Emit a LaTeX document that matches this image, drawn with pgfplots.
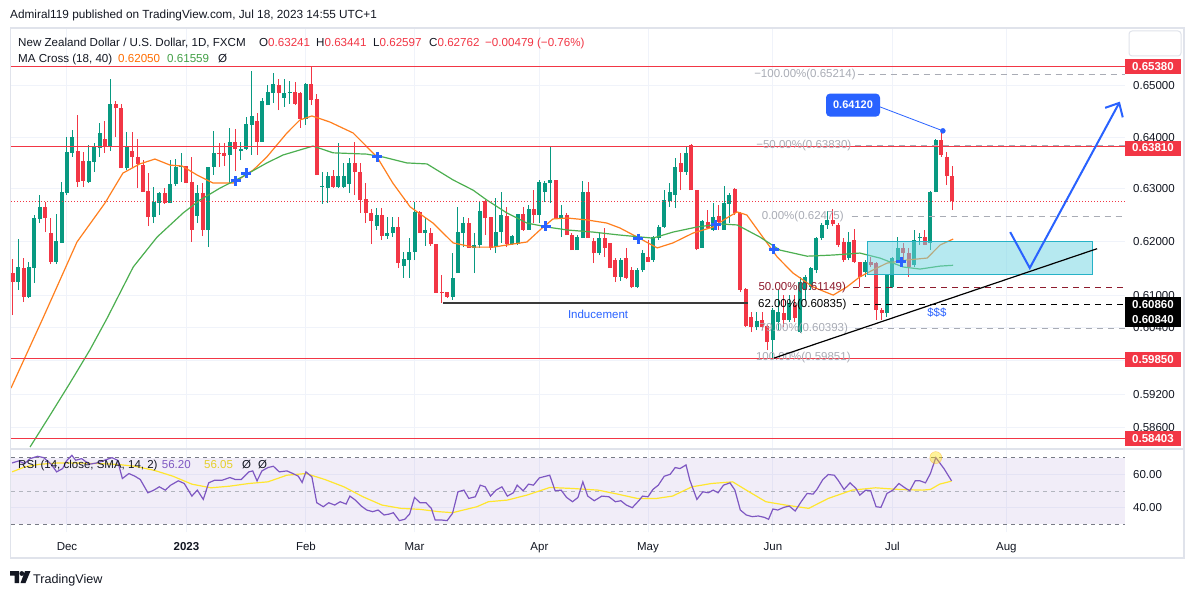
\documentclass[border=0pt]{standalone}
\usepackage{fontspec}
\setmainfont{Liberation Sans}
\usepackage{pgfplots}
\pgfplotsset{compat=1.18}
\usepackage{pgfplotstable}
\usetikzlibrary{arrows.meta}
\newcommand{\fz}[1]{\fontsize{#1}{#1}\selectfont}
\definecolor{tvred}{HTML}{F23645}
\definecolor{tvgreen}{HTML}{089981}
\definecolor{tvtext}{HTML}{131722}
\definecolor{tvgrid}{HTML}{F0F3FA}
\definecolor{tvborder}{HTML}{E0E3EB}
\definecolor{tvblue}{HTML}{2962FF}
\definecolor{maorange}{HTML}{FF7F1E}
\definecolor{magreen}{HTML}{4CAF50}
\definecolor{matxtorange}{HTML}{FF6D00}
\definecolor{matxtgreen}{HTML}{43A047}
\definecolor{rsipurple}{HTML}{7E57C2}
\definecolor{rsiyellow}{HTML}{FFE62E}
\definecolor{fibgray}{HTML}{A9ACB5}
\definecolor{fibred}{HTML}{8E1B2D}
\definecolor{zonebase}{RGB}{111,213,227}
\definecolor{zonedraw}{RGB}{38,178,199}
\definecolor{dashgray}{HTML}{787B86}
\definecolor{dashlight}{HTML}{B2B5BE}
\definecolor{inducecol}{HTML}{3A3A3A}

% green candles: rows (i, low, body-bottom), (i, high, body-top), break
\pgfplotstableread{
x w b
-9 0.61098 0.61246
-9 0.62051 0.61526
-9 nan nan
-7 0.60950 0.60968
-7 0.61619 0.61526
-7 nan nan
-6 0.61228 0.61507
-6 0.62504 0.62448
-6 nan nan
-5 0.62353 0.62429
-5 0.62885 0.62656
-5 nan nan
-2 0.61582 0.61619
-2 0.62523 0.62013
-2 nan nan
-1 0.61976 0.61976
-1 0.63134 0.62942
-1 nan nan
0 0.62885 0.62923
0 0.64002 0.63711
0 nan nan
1 0.63615 0.63692
1 0.64138 0.64002
1 nan nan
4 0.63115 0.63134
4 0.63846 0.63537
4 nan nan
5 0.63326 0.63518
5 0.63885 0.63808
5 nan nan
6 0.63615 0.63788
6 0.64274 0.64079
6 nan nan
8 0.63730 0.63808
8 0.65138 0.64646
8 nan nan
11 0.63364 0.63402
11 0.64099 0.63808
11 nan nan
16 0.62353 0.62467
16 0.63038 0.62752
16 nan nan
17 0.62504 0.62733
17 0.62942 0.62923
17 nan nan
19 0.62733 0.62733
19 0.63557 0.63096
19 nan nan
20 0.63057 0.63096
20 0.63576 0.63421
20 nan nan
21 0.63134 0.63421
21 0.63692 0.63436
21 nan nan
24 0.62353 0.62485
24 0.63077 0.62923
24 nan nan
26 0.61900 0.62221
26 0.63430 0.63421
26 nan nan
27 0.63268 0.63421
27 0.64118 0.63692
27 nan nan
30 0.63115 0.63653
30 0.64177 0.63904
30 nan nan
32 0.63557 0.63730
32 0.63904 0.63769
32 nan nan
33 0.63750 0.63769
33 0.64391 0.64255
33 nan nan
34 0.63653 0.64235
34 0.65297 0.64411
34 nan nan
36 0.63904 0.63904
36 0.64764 0.64705
36 nan nan
37 0.64627 0.64627
37 0.65020 0.64882
37 nan nan
38 0.64666 0.64862
38 0.65257 0.65039
38 nan nan
40 0.64587 0.64764
40 0.65138 0.64862
40 nan nan
41 0.64646 0.64862
41 0.65099 0.64882
41 nan nan
44 0.64235 0.64352
44 0.65059 0.65039
44 nan nan
47 0.62713 0.63038
47 0.63326 0.63057
47 nan nan
48 0.62733 0.63019
48 0.63326 0.63249
48 nan nan
50 0.63019 0.63038
50 0.63885 0.63249
50 nan nan
51 0.63019 0.63038
51 0.63499 0.63249
51 nan nan
52 0.62923 0.63096
52 0.63595 0.63499
52 nan nan
57 0.62221 0.62296
57 0.62637 0.62504
57 nan nan
59 0.62051 0.62107
59 0.62466 0.62164
59 nan nan
60 0.62088 0.62164
60 0.62466 0.62277
60 nan nan
62 0.61321 0.61545
62 0.61807 0.61676
62 nan nan
63 0.61321 0.61657
63 0.62070 0.61807
63 nan nan
64 0.61657 0.61807
64 0.62752 0.62561
64 nan nan
66 0.61919 0.62164
66 0.62466 0.62221
66 nan nan
71 0.60913 0.60968
71 0.61788 0.61321
71 nan nan
72 0.61414 0.61414
72 0.62656 0.62183
72 nan nan
73 0.61900 0.62164
73 0.62466 0.62353
73 nan nan
75 0.61414 0.61882
75 0.62164 0.61938
75 nan nan
76 0.61882 0.61938
76 0.62752 0.62580
76 nan nan
79 0.61788 0.61900
79 0.62828 0.62183
79 nan nan
80 0.61976 0.62183
80 0.62942 0.62504
80 nan nan
82 0.61938 0.61957
82 0.62126 0.62107
82 nan nan
83 0.61938 0.61957
83 0.62530 0.62523
83 nan nan
85 0.62221 0.62221
85 0.62694 0.62618
85 nan nan
87 0.62353 0.62504
87 0.63172 0.63134
87 nan nan
88 0.62752 0.62942
88 0.63153 0.63115
88 nan nan
89 0.62733 0.63115
89 0.63808 0.63172
89 nan nan
91 0.62088 0.62429
91 0.62694 0.62504
91 nan nan
94 0.61844 0.61844
94 0.62126 0.62088
94 nan nan
95 0.62070 0.62070
95 0.63153 0.62942
95 nan nan
98 0.61751 0.61788
98 0.62164 0.62070
98 nan nan
102 0.61265 0.61340
102 0.61694 0.61657
102 nan nan
105 0.61135 0.61153
105 0.61507 0.61470
105 nan nan
106 0.61433 0.61470
106 0.61844 0.61788
106 nan nan
108 0.61619 0.61657
108 0.62107 0.62088
108 nan nan
109 0.62032 0.62070
109 0.62315 0.62277
109 nan nan
110 0.62258 0.62277
110 0.62980 0.62790
110 nan nan
111 0.62656 0.62771
111 0.63115 0.62942
111 nan nan
112 0.62637 0.62885
112 0.63595 0.63421
112 nan nan
114 0.63268 0.63326
114 0.63808 0.63692
114 nan nan
117 0.61882 0.61882
117 0.62410 0.62391
117 nan nan
119 0.62202 0.62221
119 0.62733 0.62466
119 nan nan
121 0.62221 0.62221
121 0.63057 0.62733
121 nan nan
122 0.62353 0.62713
122 0.62923 0.62885
122 nan nan
127 0.60361 0.60416
127 0.60691 0.60526
127 nan nan
130 0.59851 0.60178
130 0.60765 0.60728
130 nan nan
131 0.60361 0.60507
131 0.61098 0.60691
131 nan nan
133 0.60507 0.60544
133 0.61005 0.60858
133 nan nan
135 0.60306 0.60324
135 0.61340 0.61246
135 nan nan
136 0.60913 0.61098
136 0.61377 0.61340
136 nan nan
137 0.61098 0.61153
137 0.61526 0.61507
137 nan nan
138 0.61414 0.61470
138 0.62088 0.62070
138 nan nan
139 0.62032 0.62070
139 0.62353 0.62315
139 nan nan
140 0.62250 0.62315
140 0.62580 0.62400
140 nan nan
144 0.61657 0.61694
144 0.62183 0.61995
144 nan nan
147 0.61340 0.61433
147 0.61657 0.61619
147 nan nan
151 0.60600 0.60673
151 0.61400 0.61377
151 nan nan
152 0.61135 0.61153
152 0.61713 0.61694
152 nan nan
153 0.61601 0.61619
153 0.62088 0.61882
153 nan nan
156 0.61526 0.61563
156 0.62221 0.62032
156 nan nan
157 0.61938 0.62070
157 0.62164 0.62088
157 nan nan
159 0.61844 0.61976
159 0.62961 0.62942
159 nan nan
160 0.62938 0.62942
160 0.63963 0.63943
160 nan nan
}\greenC

% red candles
\pgfplotstableread{
x w b
-10 0.60636 0.61246
-10 0.61675 0.61414
-10 nan nan
-8 0.60876 0.60968
-8 0.61694 0.61507
-8 nan nan
-4 0.62183 0.62447
-4 0.62752 0.62656
-4 nan nan
-3 0.61582 0.61619
-3 0.62447 0.62164
-3 nan nan
2 0.63038 0.63134
2 0.64430 0.63730
2 nan nan
3 0.63038 0.63153
3 0.63711 0.63537
3 nan nan
7 0.63692 0.63808
7 0.64313 0.63963
7 nan nan
9 0.64002 0.64567
9 0.64705 0.64646
9 nan nan
10 0.63402 0.63402
10 0.64646 0.64567
10 nan nan
12 0.63402 0.63615
12 0.64099 0.63730
12 nan nan
13 0.63019 0.63480
13 0.63963 0.63615
13 nan nan
14 0.62942 0.62942
14 0.63557 0.63461
14 nan nan
15 0.62296 0.62467
15 0.63306 0.62961
15 nan nan
18 0.62713 0.62733
18 0.63019 0.62923
18 nan nan
22 0.63115 0.63115
22 0.63445 0.63441
22 nan nan
23 0.61995 0.62221
23 0.63615 0.63134
23 nan nan
25 0.62107 0.62221
25 0.63115 0.62923
25 nan nan
28 0.63421 0.63673
28 0.63885 0.63692
28 nan nan
29 0.63441 0.63634
29 0.63885 0.63692
29 nan nan
31 0.63345 0.63769
31 0.64157 0.63904
31 nan nan
35 0.63653 0.63904
35 0.64470 0.64313
35 nan nan
39 0.64528 0.64862
39 0.65138 0.65020
39 nan nan
42 0.64627 0.64646
42 0.65079 0.64882
42 nan nan
43 0.64177 0.64352
43 0.64870 0.64862
43 nan nan
45 0.64627 0.64724
45 0.65375 0.65039
45 nan nan
46 0.63267 0.63267
46 0.64843 0.64744
46 nan nan
49 0.63019 0.63038
49 0.63364 0.63249
49 nan nan
53 0.62885 0.63326
53 0.63904 0.63499
53 nan nan
54 0.62542 0.62790
54 0.63499 0.63326
54 nan nan
55 0.62353 0.62542
55 0.63115 0.62809
55 nan nan
56 0.61957 0.62391
56 0.62618 0.62542
56 nan nan
58 0.62032 0.62107
58 0.62637 0.62504
58 nan nan
61 0.61507 0.61601
61 0.62466 0.62277
61 nan nan
65 0.62164 0.62164
65 0.62570 0.62561
65 nan nan
67 0.61919 0.61957
67 0.62258 0.62164
67 nan nan
68 0.61042 0.61042
68 0.61960 0.61957
68 nan nan
69 0.60857 0.61050
69 0.61377 0.61065
69 nan nan
70 0.60960 0.60968
70 0.61065 0.61061
70 nan nan
74 0.61882 0.61882
74 0.62447 0.62353
74 nan nan
77 0.62126 0.62447
77 0.62790 0.62771
77 nan nan
78 0.61844 0.61882
78 0.62470 0.62466
78 nan nan
81 0.61900 0.61957
81 0.62656 0.62485
81 nan nan
84 0.62202 0.62221
84 0.62656 0.62523
84 nan nan
86 0.62353 0.62504
86 0.62980 0.62618
86 nan nan
90 0.62429 0.62429
90 0.63180 0.63172
90 nan nan
92 0.62126 0.62126
92 0.62542 0.62504
92 nan nan
93 0.61844 0.61844
93 0.62164 0.62126
93 nan nan
96 0.62070 0.62070
96 0.63134 0.62942
96 nan nan
97 0.61601 0.61788
97 0.62070 0.62013
97 nan nan
99 0.61713 0.61882
99 0.62258 0.62070
99 nan nan
100 0.61507 0.61507
100 0.61980 0.61976
100 nan nan
101 0.61246 0.61340
101 0.61694 0.61657
101 nan nan
103 0.61302 0.61321
103 0.61882 0.61694
103 nan nan
104 0.61135 0.61153
104 0.61526 0.61470
104 nan nan
107 0.61619 0.61619
107 0.62032 0.61713
107 nan nan
113 0.62980 0.63326
113 0.63692 0.63499
113 nan nan
115 0.62980 0.62980
115 0.63870 0.63846
115 nan nan
116 0.61844 0.61863
116 0.62985 0.62980
116 nan nan
118 0.62240 0.62258
118 0.62599 0.62372
118 nan nan
120 0.62221 0.62372
120 0.62694 0.62485
120 nan nan
123 0.62504 0.62542
123 0.63019 0.62999
123 nan nan
124 0.61061 0.61098
124 0.62561 0.62542
124 nan nan
125 0.60416 0.60434
125 0.61135 0.61116
125 nan nan
126 0.60324 0.60416
126 0.60691 0.60599
126 nan nan
128 0.60361 0.60416
128 0.60691 0.60544
128 nan nan
129 0.59996 0.60141
129 0.60452 0.60434
129 nan nan
132 0.60416 0.60544
132 0.61005 0.60673
132 nan nan
134 0.60507 0.60581
134 0.61005 0.60821
134 nan nan
141 0.62290 0.62340
141 0.62620 0.62400
141 nan nan
142 0.61900 0.61938
142 0.62353 0.62315
142 nan nan
143 0.61619 0.61657
143 0.62070 0.61995
143 nan nan
145 0.61601 0.61619
145 0.62240 0.62032
145 nan nan
146 0.61153 0.61340
146 0.61622 0.61619
146 nan nan
148 0.61526 0.61563
148 0.61713 0.61619
148 nan nan
149 0.60544 0.60728
149 0.61619 0.61601
149 nan nan
150 0.60544 0.60673
150 0.60765 0.60728
150 nan nan
154 0.61657 0.61788
154 0.61976 0.61882
154 nan nan
155 0.61340 0.61526
155 0.61882 0.61788
155 nan nan
158 0.61935 0.61938
158 0.62221 0.62088
158 nan nan
161 0.63615 0.63653
161 0.64120 0.63943
161 nan nan
162 0.63077 0.63249
162 0.63711 0.63615
162 nan nan
163 0.62597 0.62762
163 0.63441 0.63241
163 nan nan
}\redC

\pgfplotstableread{
x y
-10.31 0.59307
-4.42 0.60581
1.84 0.61995
7.0 0.62733
10.3 0.63307
13.4 0.63480
16.2 0.63576
19.0 0.63461
21.2 0.63441
23.9 0.63268
26.9 0.63115
30.6 0.63115
34.3 0.63364
36.8 0.63615
40.5 0.64079
42.9 0.64333
45.1 0.64411
48.4 0.64294
52.7 0.64079
57.1 0.63615
60.0 0.63115
63.2 0.62656
67.4 0.62353
71.1 0.61976
74.8 0.61900
78.5 0.61900
82.1 0.61957
84.7 0.61995
87.1 0.62221
89.5 0.62429
92.1 0.62447
95.8 0.62410
99.4 0.62353
101.8 0.62258
105.0 0.62088
108.7 0.61882
111.6 0.61976
115.3 0.62164
119.0 0.62277
121.5 0.62447
123.4 0.62561
125.2 0.62504
127.6 0.62164
130.8 0.61713
133.7 0.61414
137.4 0.61153
141.1 0.61005
143.6 0.61153
146.0 0.61340
148.4 0.61470
151.0 0.61601
154.7 0.61657
158.4 0.61694
160.8 0.61938
163.2 0.62050
}\maFast

\pgfplotstableread{
x y
-6.8 0.58255
-3.1 0.58823
0.55 0.59397
4.2 0.59996
7.4 0.60581
12.2 0.61526
16.6 0.62088
21.4 0.62542
24.5 0.62790
28.2 0.63019
31.9 0.63211
36.8 0.63499
39.8 0.63653
42.9 0.63750
45.3 0.63827
49.0 0.63692
55.2 0.63673
58.2 0.63615
62.6 0.63499
66.3 0.63480
71.1 0.63172
74.8 0.62980
77.3 0.62790
81.0 0.62542
84.7 0.62353
88.4 0.62277
92.1 0.62221
96.9 0.62183
101.8 0.62126
107.9 0.62070
111.6 0.62183
116.0 0.62277
120.3 0.62334
123.4 0.62315
127.6 0.62088
131.3 0.61844
136.3 0.61732
141.1 0.61751
146.0 0.61788
149.7 0.61694
154.0 0.61526
157.1 0.61489
160.8 0.61545
163.2 0.61559
}\maSlow

\pgfplotstableread{
x y
-10.1 67.0
-8.9 68.2
-7.8 66.6
-6.8 69.6
-5.4 71.0
-4.3 70.2
-2.9 66.2
-1.9 61.6
-0.8 63.6
-0.1 68.2
0.9 71.6
1.6 68.6
2.7 69.6
4.1 66.2
5.5 67.0
6.9 68.6
8.3 70.2
9.3 68.6
10.2 57.6
11.4 60.6
12.5 59.0
13.5 57.0
14.9 49.0
16.0 50.6
17.0 52.6
18.1 50.6
19.1 53.6
20.5 56.2
21.6 54.6
23.0 47.0
24.0 50.6
25.1 45.0
26.1 55.0
27.2 56.6
28.6 56.6
30.0 58.2
31.0 57.0
32.1 57.0
33.5 61.6
34.2 62.2
35.0 56.2
35.9 62.2
37.0 64.2
38.0 65.0
39.1 61.6
40.5 62.2
41.6 60.6
42.6 59.0
43.3 55.2
44.0 61.6
45.1 58.6
46.0 43.0
47.2 40.6
48.2 43.0
49.3 41.6
50.3 43.6
51.4 42.2
52.1 47.0
53.1 44.6
54.2 41.0
55.2 38.6
56.3 37.6
57.3 38.6
58.4 35.6
59.4 36.2
60.1 37.0
61.2 32.2
62.2 33.0
63.1 36.2
64.0 46.2
65.0 43.0
66.1 43.0
67.1 39.6
67.8 32.6
68.9 32.6
70.0 32.2
71.0 36.6
72.0 49.6
73.1 50.6
74.0 45.6
75.2 46.6
76.1 53.6
77.0 52.6
78.0 47.0
79.0 50.6
80.1 52.6
81.1 47.0
82.2 49.0
82.9 53.6
84.0 50.2
85.0 54.2
85.9 53.6
87.0 58.0
88.9 59.6
89.9 50.2
91.0 50.6
92.0 46.2
93.1 43.6
94.1 46.2
95.0 55.6
95.9 47.0
97.1 44.2
98.5 47.0
99.8 46.6
101.0 43.6
102.0 44.2
103.0 41.6
104.1 40.0
105.3 44.2
106.0 47.0
107.0 46.6
107.9 51.0
108.9 53.6
110.0 59.0
111.1 60.2
112.0 64.2
112.9 63.6
114.0 65.8
114.7 56.6
116.0 45.0
117.1 49.6
118.1 49.0
119.0 50.6
119.9 49.0
120.9 53.6
122.1 55.0
123.0 50.6
124.0 38.6
125.1 35.6
126.2 34.6
127.3 35.0
128.4 34.2
129.2 33.0
130.0 39.2
130.9 38.6
132.0 40.2
133.0 41.0
134.1 38.0
135.2 43.6
136.3 48.6
137.4 48.2
138.1 51.0
139.2 57.0
140.2 60.0
141.3 59.6
142.0 56.6
143.1 51.0
144.2 55.0
145.3 51.6
146.0 47.6
147.1 50.6
148.0 50.2
149.0 40.6
149.9 40.2
151.0 48.6
152.1 50.6
153.2 54.6
154.3 52.0
155.2 50.2
156.2 56.2
157.1 56.2
158.1 55.0
159.0 60.6
160.0 70.2
161.5 63.6
162.9 56.2
}\rsi

\pgfplotstableread{
x y
-10.1 61.6
-7.8 64.6
-5.0 66.2
-1.5 67.0
2.0 67.0
5.5 66.6
9.0 66.2
12.5 65.0
16.0 62.6
19.5 59.0
23.0 54.2
26.5 52.0
30.0 53.0
33.5 54.6
37.0 55.6
40.5 59.6
44.0 60.6
47.5 57.0
51.0 52.6
54.5 46.6
58.0 41.6
61.5 39.6
65.0 39.0
68.5 37.6
71.0 37.0
75.5 40.6
77.6 43.6
81.1 44.6
84.7 47.6
88.9 52.2
93.1 51.6
97.8 50.6
101.4 48.2
105.0 45.6
108.6 45.6
111.5 47.0
115.1 52.6
118.7 54.6
122.6 55.6
125.1 50.6
128.7 43.6
132.3 41.6
136.6 39.6
140.2 45.6
144.6 50.6
148.9 52.0
153.2 51.0
157.5 50.6
159.0 51.0
160.7 54.2
162.9 56.05
}\rsisma

\begin{document}
\begin{tikzpicture}[x=1pt,y=1pt]
\useasboundingbox (0,0) rectangle (1195,595);
\fill[white] (0,0) rectangle (1195,595);

% ---------------- main price panel ----------------
\begin{axis}[
  at={(11pt,146pt)}, anchor=south west,
  scale only axis, width=1114pt, height=421pt,
  xmin=-10.31, xmax=194.84,
  ymode=log, ymin=0.582202, ymax=0.661543,
  clip=false,
  axis line style={draw=none},
  major tick length=0pt,
  xtick={0,22,44,64,87,107,130,152,173},
  xticklabels={},
  ytick={0.586,0.592,0.598,0.604,0.61,0.62,0.63,0.64,0.65},
  yticklabels={0.58600,0.59200,{},0.60400,0.61000,0.62000,0.63000,0.64000,0.65000},
  yticklabel pos=right,
  yticklabel style={anchor=west, inner sep=0pt, xshift=8pt, font=\fz{11.5}, text=tvtext},
  grid=major,
  major grid style={draw=tvgrid, line width=1pt},
  unbounded coords=jump,
]
% candles
\addplot[tvgreen, line width=1pt] table[x=x,y=w] {\greenC};
\addplot[tvgreen, line width=4pt] table[x=x,y=b] {\greenC};
\addplot[tvred, line width=1pt] table[x=x,y=w] {\redC};
\addplot[tvred, line width=4pt] table[x=x,y=b] {\redC};

% moving averages
\addplot[maorange, line width=1.2pt] table[x=x,y=y] {\maFast};
\addplot[magreen, line width=1.2pt] table[x=x,y=y] {\maSlow};

% demand zone (translucent, above the series)
\fill[zonebase, fill opacity=0.5] (axis cs:147.5,0.61377) rectangle (axis cs:188.8,0.62013);
\draw[zonedraw, line width=1pt] (axis cs:147.5,0.61377) rectangle (axis cs:188.8,0.62013);

\addplot[only marks, mark=+, mark size=5pt, mark options={draw=tvblue, line width=3pt}]
  coordinates {(31.1,0.63153) (33.0,0.63306) (57.1,0.63615) (88.2,0.62296) (105.2,0.62051) (119.5,0.62315) (130.2,0.61863) (153.6,0.61619)};

% horizontal levels
\draw[tvred, line width=1pt] (axis cs:-10.31,0.6538) -- (axis cs:194.84,0.6538);
\draw[tvred, line width=1pt] (axis cs:-10.31,0.6381) -- (axis cs:194.84,0.6381);
\draw[tvred, line width=1pt] (axis cs:-10.31,0.5985) -- (axis cs:194.84,0.5985);
\draw[tvred, line width=1pt] (axis cs:-10.31,0.58403) -- (axis cs:194.84,0.58403);
\draw[tvred, line width=1pt, dash pattern=on 1pt off 2pt] (axis cs:-10.31,0.62762) -- (axis cs:194.84,0.62762);

% fibonacci levels
\draw[fibgray, line width=1pt, dash pattern=on 6pt off 5pt] (axis cs:145.6,0.65214) -- (axis cs:194.84,0.65214);
\draw[fibgray, line width=1pt, dash pattern=on 6pt off 5pt] (axis cs:145.2,0.63830) -- (axis cs:194.84,0.63830);
\draw[fibgray, line width=1pt, dash pattern=on 6pt off 5pt] (axis cs:144.5,0.62475) -- (axis cs:194.84,0.62475);
\draw[fibred, line width=1pt, dash pattern=on 6pt off 5pt] (axis cs:144.8,0.61149) -- (axis cs:194.84,0.61149);
\draw[black, line width=1pt, dash pattern=on 6pt off 5pt] (axis cs:144.8,0.60835) -- (axis cs:194.84,0.60835);
\draw[fibgray, line width=1pt, dash pattern=on 6pt off 5pt] (axis cs:145.2,0.60393) -- (axis cs:194.84,0.60393);
\begin{scope}[every node/.style={font=\fz{11.5}, inner sep=0pt}]
\node[text=fibgray] at (axis cs:135.9,0.65214) {−100.00\%(0.65214)};
\node[text=fibgray] at (axis cs:135.7,0.63830) {−50.00\%(0.63830)};
\node[text=fibgray] at (axis cs:135.5,0.62475) {0.00\%(0.62475)};
\node[text=fibred] at (axis cs:135.4,0.61149) {50.00\%(0.61149)};
\node[text=black] at (axis cs:135.4,0.60835) {62.00\%(0.60835)};
\node[text=fibgray] at (axis cs:135.7,0.60393) {79.00\%(0.60393)};
\node[text=fibgray] at (axis cs:135.6,0.59851) {100.00\%(0.59851)};
\node[text=tvblue] at (axis cs:97.8,0.60655) {Inducement};
\node[text=tvblue] at (axis cs:160.2,0.60673) {\$\$\$};
\end{scope}

% inducement line and trend line
\draw[inducecol, line width=1.5pt] (axis cs:69.2,0.6086) -- (axis cs:125.4,0.6086);
\draw[black, line width=1.2pt] (axis cs:130.2,0.5985) -- (axis cs:189.7,0.6187);

% projection path
\addplot[tvblue, line width=2pt, -{Straight Barb[length=11pt,width=20pt]}]
  coordinates {(173.7,0.62183) (177.3,0.61507) (193.9,0.64691)};

% 0.64120 callout
\draw[tvblue, line width=0.8pt] (axis cs:149.7,0.64587) -- (axis cs:161.3,0.6412);
\addplot[only marks, mark=*, mark size=2.5pt, mark options={draw=tvblue, fill=tvblue}] coordinates {(161.3,0.6412)};
\node[fill=tvblue, rounded corners=4pt, text=white, font=\bfseries\fz{11}, minimum width=54pt, minimum height=23pt, inner sep=0pt] at (axis cs:144.75,0.64626) {0.64120};

\coordinate (pA) at (axis cs:0,0.6538);
\coordinate (pB) at (axis cs:0,0.63790);
\coordinate (pC) at (axis cs:0,0.60835);
\coordinate (pD) at (axis cs:0,0.5985);
\coordinate (pE) at (axis cs:0,0.58403);
\end{axis}

% ---------------- RSI panel ----------------
\begin{axis}[
  at={(11pt,63pt)}, anchor=south west,
  scale only axis, width=1114pt, height=83pt,
  xmin=-10.31, xmax=194.84, ymin=25.35, ymax=75.4,
  clip=false,
  axis line style={draw=none},
  major tick length=0pt,
  xtick={0,22,44,64,87,107,130,152,173},
  xticklabels={Dec,\textbf{2023},Feb,Mar,Apr,May,Jun,Jul,Aug},
  xticklabel style={anchor=base, inner sep=0pt, yshift=-18pt, font=\fz{11.5}, text=tvtext},
  ytick={40,60},
  yticklabels={40.00,60.00},
  yticklabel pos=right,
  yticklabel style={anchor=west, inner sep=0pt, xshift=8pt, font=\fz{11.5}, text=tvtext},
  grid=major,
  major grid style={draw=tvgrid, line width=1pt},
]
\fill[rsipurple, fill opacity=0.1] (axis cs:-10.31,30) rectangle (axis cs:194.84,70);
\draw[dashgray, line width=1pt, dash pattern=on 4pt off 4pt] (axis cs:-10.31,70) -- (axis cs:194.84,70);
\draw[dashgray, line width=1pt, dash pattern=on 4pt off 4pt] (axis cs:-10.31,30) -- (axis cs:194.84,30);
\draw[dashlight, line width=1pt, dash pattern=on 4pt off 4pt] (axis cs:-10.31,50) -- (axis cs:194.84,50);
\addplot[rsiyellow, line width=1.2pt] table[x=x,y=y] {\rsisma};
\addplot[rsipurple, line width=1.2pt] table[x=x,y=y] {\rsi};
\addplot[only marks, mark=*, mark size=6pt, mark options={draw=orange!70!yellow, draw opacity=0.5, fill=yellow!85!orange, fill opacity=0.4}] coordinates {(160,70.2)};
\end{axis}

% ---------------- frame ----------------
\draw[tvborder, line width=1.5pt] (10.5,37) rectangle (1184,567);
\draw[tvborder, line width=1.5pt] (10.5,146) -- (1184,146);
\draw[tvborder, line width=1pt, rounded corners=3pt] (1129,539) rectangle (1181,564);

% price labels on scale
\coordinate (xr) at (1153,0);
\begin{scope}[every node/.style={text=white, font=\bfseries\fz{11.5}, minimum width=56pt, minimum height=15pt, inner sep=0pt}]
\node[fill=tvred] at (pA -| xr) {0.65380};
\node[fill=tvred] at (pB -| xr) {0.63810};
\node[fill=black] at (pC -| xr) {0.60860};
\node[fill=black, yshift=-15.5pt] at (pC -| xr) {0.60840};
\node[fill=tvred, yshift=-1.5pt] at (pD -| xr) {0.59850};
\node[fill=tvred] at (pE -| xr) {0.58403};
\end{scope}

% header texts
\begin{scope}[every node/.style={anchor=base west, inner sep=0pt, text=tvtext}]
\node[font=\fz{11.8}] at (10,576) {Admiral119 published on TradingView.com, Jul 18, 2023 14:55 UTC+1};
\node[font=\fz{11.6}] at (18,548.3) {New Zealand Dollar / U.S. Dollar, 1D, FXCM};
\node[font=\fz{11.6}] at (259,548.3) {O\textcolor{tvred}{0.63241}};
\node[font=\fz{11.6}] at (316,548.3) {H\textcolor{tvred}{0.63441}};
\node[font=\fz{11.6}] at (373,548.3) {L\textcolor{tvred}{0.62597}};
\node[font=\fz{11.6}] at (429,548.3) {C\textcolor{tvred}{0.62762}};
\node[font=\fz{11.6}, text=tvred] at (485,548.3) {−0.00479 (−0.76\%)};
\node[font=\fz{11.6}] at (18,532) {MA Cross (18, 40)};
\node[font=\fz{11.6}, text=matxtorange] at (118,532) {0.62050};
\node[font=\fz{11.6}, text=matxtgreen] at (167,532) {0.61559};
\node[font=\fz{11.6}] at (218,532) {Ø};
\node[font=\fz{11.5}] at (18,126) {RSI (14, close, SMA, 14, 2)};
\node[font=\fz{11.5}, text=rsipurple] at (161.7,126) {56.20};
\node[font=\fz{11.5}, text=rsiyellow!90!black] at (204,126) {56.05};
\node[font=\fz{11.5}] at (242,126) {Ø};
\node[font=\fz{11.5}] at (258,126) {Ø};
\node[font=\fz{12.6}] at (33,12) {TradingView};
\end{scope}

% TradingView logo
\fill[tvtext] (10,24) -- (19,24) -- (19,12) -- (14.5,12) -- (14.5,19.5) -- (10,19.5) -- cycle;
\fill[tvtext] (21.8,21.5) circle (2.4);
\fill[tvtext] (25,24) -- (30.5,24) -- (25.5,12) -- (20.5,12) -- cycle;
\end{tikzpicture}
\end{document}
